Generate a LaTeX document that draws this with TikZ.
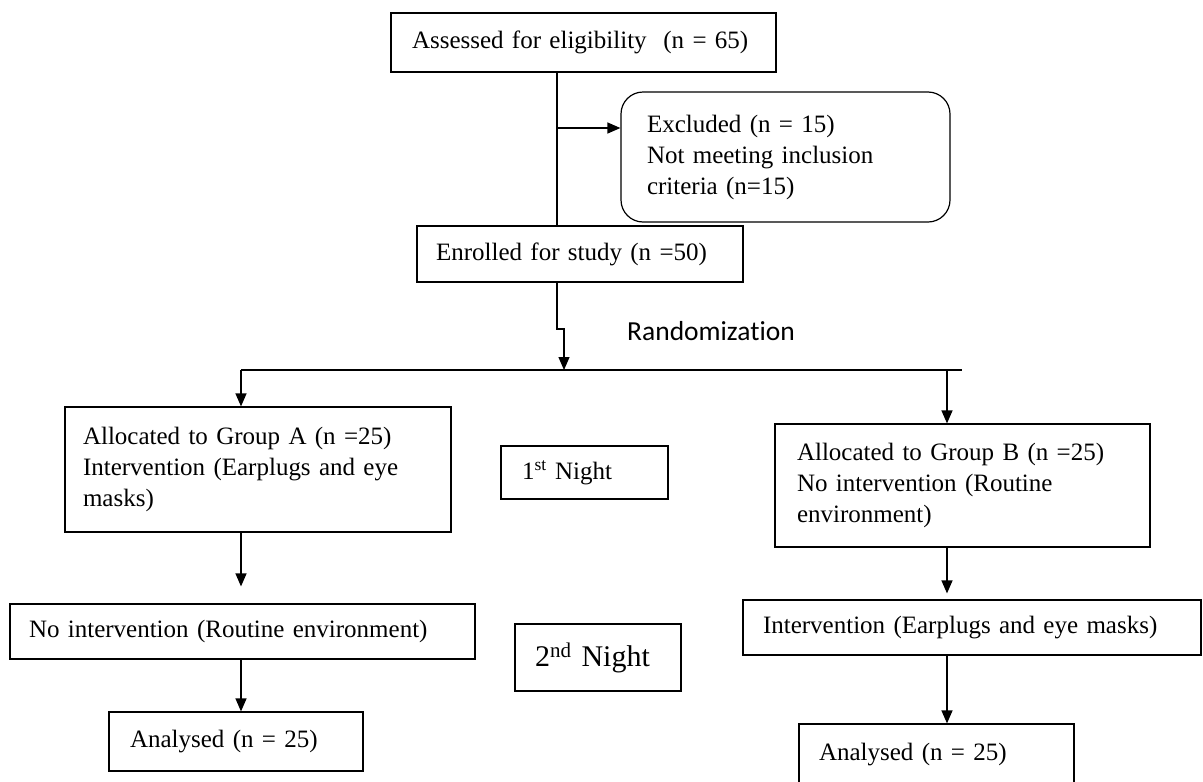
\documentclass[tikz,border=0pt]{standalone}
\usepackage{fontspec}
\setmainfont{Liberation Serif}
\newfontfamily\calibri[RawFeature={-liga;-dlig}]{Carlito}
\usetikzlibrary{arrows.meta}

\begin{document}
\begin{tikzpicture}[x=1pt,y=-1pt,
  box/.style={draw,line width=1.2pt,align=left,inner ysep=0pt,font=\fontsize{25}{31}\selectfont},
  arr/.style={-{Triangle[length=13pt,width=11pt]},line width=1.2pt}]
  \useasboundingbox (0,0) rectangle (1203,782);
  \clip (0,0) rectangle (1203,782);
  % columns of the connectors
  \coordinate (colM) at (557,0); \coordinate (colA) at (241,0); \coordinate (colB) at (947,0);
  \node[box,text width=343pt,inner xsep=21pt,minimum height=59pt] (assess) at (583.5,42.5)
        {Assessed for eligibility\ \ (n = 65)};
  \node[box,text width=277pt,inner xsep=26pt,minimum height=130pt,rounded corners=22pt] (excl) at (785.5,157)
        {Excluded (n = 15)\\Not meeting inclusion\\criteria (n=15)};
  \node[box,text width=288pt,inner xsep=19pt,minimum height=56pt] (enrol) at (580,254)
        {Enrolled for study (n =50)};
  \node[font=\calibri\fontsize{27.5}{30}\selectfont] (rand) at (711,331) {Randomization};
  \coordinate (exb) at (557,128);
  \coordinate (jog) at (557,329);
  \coordinate (spl) at (564,370); \coordinate (splL) at (241,370); \coordinate (splR) at (962,370);
  \node[box,text width=350pt,inner xsep=18pt,minimum height=125pt] (grpA) at (258,469.5)
        {Allocated to Group A (n =25)\\Intervention (Earplugs and eye\\masks)};
  \node[box,text width=331pt,inner xsep=22pt,minimum height=123pt] (grpB) at (962.5,485.5)
        {Allocated to Group B (n =25)\\No intervention (Routine\\environment)};
  \node[box,text width=125pt,inner xsep=21pt,minimum height=53pt] (night1) at (584.5,472.5)
        {1\textsuperscript{st} Night};
  \node[box,text width=126pt,inner xsep=20pt,minimum height=67pt,font=\fontsize{30}{34}\selectfont] (night2) at (598,657.5)
        {2\textsuperscript{nd} Night};
  \node[box,text width=427pt,inner xsep=19pt,minimum height=55pt] (noA) at (242.5,631.5)
        {No intervention (Routine environment)};
  \node[box,text width=418pt,inner xsep=20pt,minimum height=55pt] (intB) at (972,627.5)
        {Intervention (Earplugs and eye masks)};
  \node[box,text width=212pt,inner xsep=21pt,minimum height=59pt] (anaA) at (236,741.5)
        {Analysed (n = 25)};
  \node[box,text width=235pt,inner xsep=20pt,minimum height=62pt] (anaB) at (936.5,755)
        {Analysed (n = 25)};
  \draw[line width=1.2pt] (colM |- assess.south) -- (colM |- enrol.north);
  \draw[arr] (exb) -- (exb -| excl.west);
  \draw[arr] (enrol.south -| jog) -- (jog) -- ++(7,0) -- (spl);
  \draw[line width=1.2pt] (splL) -- (splR);
  \draw[arr] (splL) -- (colA |- grpA.north);
  \draw[arr] (colB |- splR) -- (colB |- grpB.north);
  \draw[arr,shorten >=17pt] (colA |- grpA.south) -- (colA |- noA.north);
  \draw[arr] (colA |- noA.south) -- (colA |- anaA.north);
  \draw[arr,shorten >=6pt] (colB |- grpB.south) -- (colB |- intB.north);
  \draw[arr] (colB |- intB.south) -- (colB |- anaB.north);
\end{tikzpicture}
\end{document}
